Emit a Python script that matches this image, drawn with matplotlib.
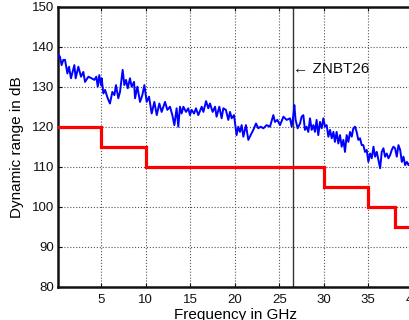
import matplotlib
matplotlib.use("Agg")
import matplotlib.pyplot as plt

plt.rcParams['font.family'] = ['Liberation Sans', 'DejaVu Sans']

# Measured dynamic range (blue trace)
freq_ghz = [
    0.10, 0.18, 0.35, 0.54, 0.73, 0.92, 1.19, 1.37, 1.59, 1.97, 2.12, 2.42, 2.72, 2.98,
    3.17, 3.55, 3.91, 4.22, 4.44, 4.60, 4.77, 4.96, 5.04, 5.23, 5.42, 5.72, 5.97, 6.24,
    6.47, 6.65, 6.91, 7.10, 7.40, 7.59, 7.78, 7.97, 8.22, 8.41, 8.68, 8.79, 9.05, 9.35,
    9.61, 9.84, 10.10, 10.36, 10.66, 10.96, 11.23, 11.52, 11.78, 12.16, 12.42, 12.72,
    12.98, 13.21,
    13.46, 13.65, 13.84, 14.03, 14.22, 14.52, 14.77, 14.96, 15.15, 15.42, 15.64, 15.90,
    16.28, 16.47, 16.77, 17.02, 17.21, 17.51, 17.78, 17.95, 18.26, 18.52, 18.71, 19.00,
    19.27, 19.46, 19.65, 19.91, 20.20, 20.39, 20.58, 20.77, 20.96, 21.25, 21.52, 21.78,
    22.08, 22.38, 22.64, 22.91, 23.21, 23.58, 23.95, 24.33, 24.51, 24.78, 25.08, 25.46,
    25.83,
    26.20, 26.39, 26.58, 26.69, 26.83, 27.06, 27.33, 27.51, 27.70, 27.88, 28.07, 28.26,
    28.45, 28.64, 28.83, 29.01, 29.19, 29.38, 29.57, 29.76, 29.95, 30.13, 30.32, 30.51,
    30.70, 30.89, 31.08, 31.25, 31.44, 31.63, 31.82, 32.01, 32.20, 32.38, 32.57, 32.76,
    32.95, 33.14, 33.32, 33.51, 33.69, 33.88, 34.07, 34.26, 34.44, 34.63, 34.82, 35.01,
    35.20, 35.39, 35.58, 35.76, 35.95, 36.14, 36.33, 36.51, 36.70, 36.88, 37.07, 37.26,
    37.45, 37.64, 37.82, 38.01, 38.20, 38.39, 38.58, 38.77, 38.95, 39.14, 39.33, 39.52,
    39.75, 40.00,
]
dyn_range_db = [
    137.2, 138.0, 137.5, 135.4, 136.7, 136.7, 133.3, 135.0, 132.1, 135.4, 132.1, 135.0,
    132.5, 133.7, 131.2, 132.5, 132.1, 131.7, 132.5, 130.0, 132.9, 130.4, 132.1, 128.3,
    129.2, 127.1, 125.8, 128.7, 127.9, 130.4, 127.1, 128.7, 134.2, 130.4, 131.7, 129.6,
    132.1, 130.0, 131.2, 127.1, 130.0, 126.2, 127.9, 130.4, 126.2, 127.5, 123.3, 126.2,
    122.9, 125.8, 123.7, 126.2, 124.2, 125.0, 122.9, 120.4,
    124.6, 120.0, 125.0, 123.3, 125.0, 123.7, 124.6, 122.9, 124.2, 123.3, 124.6, 122.9,
    125.0, 123.7, 126.4, 124.6, 125.8, 123.7, 125.0, 122.5, 125.0, 122.1, 124.6, 124.2,
    121.7, 123.7, 122.1, 122.9, 117.9, 120.0, 118.7, 120.4, 117.5, 120.4, 116.7, 117.9,
    119.2, 120.8, 119.6, 120.0, 119.6, 120.4, 120.0, 122.9, 121.2, 121.7, 120.4, 122.5,
    121.7,
    122.1, 120.0, 122.9, 125.4, 121.7, 119.6, 120.8, 122.5, 122.9, 119.2, 120.0, 118.7,
    122.1, 119.2, 120.4, 118.7, 121.7, 117.9, 121.2, 119.6, 122.1, 120.0, 120.4, 117.5,
    119.2, 117.1, 118.7, 116.2, 118.7, 115.8, 117.9, 115.0, 116.7, 113.7, 117.9, 116.2,
    118.7, 117.5, 119.6, 120.0, 118.7, 116.7, 117.1, 115.4, 115.4, 113.7, 114.2, 111.2,
    113.3, 112.1, 115.0, 112.5, 113.7, 111.7, 109.6, 113.7, 114.6, 112.5, 113.3, 112.1,
    112.9, 114.2, 115.0, 114.6, 112.5, 115.4, 114.2, 111.2, 112.5, 110.4, 111.2, 110.4,
    111.3, 110.6,
]

# Specified dynamic range (red step)
spec_edges_ghz = [0, 5, 10, 30, 35, 38, 40]
spec_levels_db = [120, 115, 110, 105, 100, 95, 95]

marker_freq_ghz = 26.5
marker_label = "\u2190 ZNBT26"

x_ticks = [5, 10, 15, 20, 25, 30, 35, 40]
y_ticks = [80, 90, 100, 110, 120, 130, 140, 150]

fig = plt.figure(figsize=(4.09, 3.20), dpi=100)
ax = fig.add_axes([57.7 / 409, 33.3 / 320, 355.1 / 409, 280.0 / 320])

ax.grid(True, color='#555555', linestyle=':', linewidth=0.8)
ax.set_axisbelow(True)

ax.axvline(marker_freq_ghz, color='#333333', linewidth=1.0, zorder=2)
ax.plot(freq_ghz, dyn_range_db, color='#0000ff', linewidth=1.4, zorder=3)
ax.step(spec_edges_ghz, spec_levels_db, where='post', color='#ff0000',
        linewidth=2.3, zorder=4, solid_joinstyle='miter')

ax.text(marker_freq_ghz + 0.05, 134.4, marker_label, ha='left', va='center',
        fontsize=11, color='#111111')

ax.set_xlim(0.1, 40)
ax.set_ylim(80, 150)
ax.set_xticks(x_ticks)
ax.set_yticks(y_ticks)
ax.tick_params(direction='in', length=3, width=0.8, labelsize=9.5,
               top=True, right=True, colors='#111111')
ax.tick_params(axis='x', pad=5)
ax.tick_params(axis='y', pad=2.5)

for side in ['left', 'bottom', 'top', 'right']:
    ax.spines[side].set_linewidth(1.8)
    ax.spines[side].set_color('#111111')

ax.set_xlabel("Frequency in GHz", fontsize=11, labelpad=2)
ax.set_ylabel("Dynamic range in dB", fontsize=11, labelpad=6)

fig.savefig("out.png", dpi=100)
